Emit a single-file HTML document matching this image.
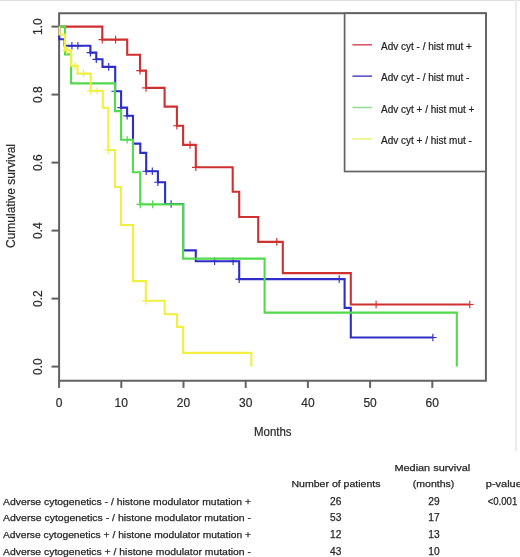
<!DOCTYPE html>
<html><head><meta charset="utf-8"><style>
html,body{margin:0;padding:0;background:#fff;}
body{width:520px;height:557px;overflow:hidden;position:relative;}
svg{position:absolute;left:0;top:0;will-change:transform;}
.ax{font-family:"Liberation Sans",sans-serif;font-size:12px;fill:#2a2a2a;stroke:#2a2a2a;stroke-width:0.2px;}
.lg{font-family:"Liberation Sans",sans-serif;font-size:10px;fill:#222;stroke:#222;stroke-width:0.2px;}
.tb{font-family:"Liberation Sans",sans-serif;font-size:9.8px;fill:#262626;stroke:#262626;stroke-width:0.25px;}
.tn{font-family:"Liberation Sans",sans-serif;font-size:10.2px;fill:#262626;stroke:#262626;stroke-width:0.25px;}
</style></head><body>
<svg width="520" height="557" viewBox="0 0 520 557">
<g>
<rect x="0" y="0" width="520" height="557" fill="#fff"/>
<rect x="0" y="0" width="520" height="1" fill="#dedede"/>
<rect x="515" y="0" width="2" height="451" fill="#ebebeb"/>
<path d="M59.1,13.3 H485.9 V380.7 H59.1 Z" stroke="#626262" stroke-width="2.0" fill="none"/><path d="M51.5,26.6 H59.1" stroke="#626262" stroke-width="2.0"/><path d="M51.5,94.6 H59.1" stroke="#626262" stroke-width="2.0"/><path d="M51.5,162.6 H59.1" stroke="#626262" stroke-width="2.0"/><path d="M51.5,230.6 H59.1" stroke="#626262" stroke-width="2.0"/><path d="M51.5,298.6 H59.1" stroke="#626262" stroke-width="2.0"/><path d="M51.5,366.6 H59.1" stroke="#626262" stroke-width="2.0"/><path d="M59.1,380.5 V387.9" stroke="#626262" stroke-width="2.0"/><path d="M121.3,380.5 V387.9" stroke="#626262" stroke-width="2.0"/><path d="M183.5,380.5 V387.9" stroke="#626262" stroke-width="2.0"/><path d="M245.7,380.5 V387.9" stroke="#626262" stroke-width="2.0"/><path d="M307.9,380.5 V387.9" stroke="#626262" stroke-width="2.0"/><path d="M370.1,380.5 V387.9" stroke="#626262" stroke-width="2.0"/><path d="M432.3,380.5 V387.9" stroke="#626262" stroke-width="2.0"/>
<text transform="translate(42,26.6) rotate(-90)" text-anchor="middle" class="ax">1.0</text><text transform="translate(42,94.6) rotate(-90)" text-anchor="middle" class="ax">0.8</text><text transform="translate(42,162.6) rotate(-90)" text-anchor="middle" class="ax">0.6</text><text transform="translate(42,230.6) rotate(-90)" text-anchor="middle" class="ax">0.4</text><text transform="translate(42,298.6) rotate(-90)" text-anchor="middle" class="ax">0.2</text><text transform="translate(42,366.6) rotate(-90)" text-anchor="middle" class="ax">0.0</text><text x="59.1" y="407" text-anchor="middle" class="ax">0</text><text x="121.3" y="407" text-anchor="middle" class="ax">10</text><text x="183.5" y="407" text-anchor="middle" class="ax">20</text><text x="245.7" y="407" text-anchor="middle" class="ax">30</text><text x="307.9" y="407" text-anchor="middle" class="ax">40</text><text x="370.1" y="407" text-anchor="middle" class="ax">50</text><text x="432.3" y="407" text-anchor="middle" class="ax">60</text><text x="272.8" y="436" text-anchor="middle" class="ax" textLength="37.5" lengthAdjust="spacingAndGlyphs">Months</text><text transform="translate(14.6,196) rotate(-90)" text-anchor="middle" class="ax">Cumulative survival</text>
<g fill="none" stroke-width="2.1" stroke-linecap="butt" stroke-linejoin="miter">
<path d="M59.1,26.6 H102.3 V39.6 H127.2 V54.7 H140 V70.6 H146 V87.9 H164.6 V106.6 H176.9 V125.7 H183.1 V144.9 H195.8 V167.3 H232.7 V191.7 H239.2 V217 H258.2 V241.9 H282.8 V273.1 H350.8 V304.5 H469.8" stroke="#cf3030"/><path d="M98.5,39.6 H106.1 M102.3,35.8 V43.4 M111.8,39.6 H119.4 M115.6,35.8 V43.4 M136.2,70.6 H143.8 M140,66.8 V74.4 M142.2,87.9 H149.8 M146,84.1 V91.7 M173.1,125.7 H180.7 M176.9,121.9 V129.5 M186.2,144.9 H193.8 M190,141.1 V148.7 M192.0,167.3 H199.6 M195.8,163.5 V171.1 M273.0,241.9 H280.6 M276.8,238.1 V245.7 M372.3,304.5 H379.9 M376.1,300.7 V308.3 M466.0,304.5 H473.6 M469.8,300.7 V308.3" stroke="#cf3030" stroke-width="1.15"/>
<path d="M59.3,26.6 V39.2 H64.6 V45.8 H90.4 V52.6 H96.3 V59.3 H102.5 V66.9 H115.2 V91.2 H121.1 V107.6 H127.1 V115.8 H133 V143.6 H140.3 V152.9 H146.2 V171.2 H157.9 V182.2 H165.1 V204 H183.2 V250.4 H195.8 V261.2 H239.2 V279.1 H344.6 V307.9 H350.8 V337.5 H432.9" stroke="#2e2ec6"/><path d="M68.1,45.8 H75.7 M71.9,42.0 V49.6 M74.1,45.8 H81.7 M77.9,42.0 V49.6 M86.6,52.6 H94.2 M90.4,48.8 V56.4 M92.5,59.3 H100.1 M96.3,55.5 V63.1 M104.9,66.9 H112.5 M108.7,63.1 V70.7 M111.4,91.2 H119.0 M115.2,87.4 V95.0 M117.3,107.6 H124.9 M121.1,103.8 V111.4 M123.3,115.8 H130.9 M127.1,112.0 V119.6 M142.4,171.2 H150.0 M146.2,167.4 V175.0 M148.5,171.2 H156.1 M152.3,167.4 V175.0 M154.1,182.2 H161.7 M157.9,178.4 V186.0 M167.3,204 H174.9 M171.1,200.2 V207.8 M210.8,261.2 H218.4 M214.6,257.4 V265.0 M229.3,261.2 H236.9 M233.1,257.4 V265.0 M235.4,279.1 H243.0 M239.2,275.3 V282.9 M335.4,279.1 H343.0 M339.2,275.3 V282.9 M429.1,337.5 H436.7 M432.9,333.7 V341.3" stroke="#2e2ec6" stroke-width="1.15"/>
<path d="M59.1,26.6 H65 V54.4 H71.1 V83.4 H115 V111.1 H121.1 V139.7 H132.9 V172.2 H140.2 V204.4 H183.1 V258.6 H264.6 V312.6 H456.8 V366.6" stroke="#52da4c"/><path d="M123.4,139.7 H131.0 M127.2,135.9 V143.5 M136.4,204.4 H144.0 M140.2,200.6 V208.2 M148.8,204.4 H156.4 M152.6,200.6 V208.2" stroke="#52da4c" stroke-width="1.15"/>
<path d="M59.4,26.6 V34.5 H64.9 V50.4 H71 V65.8 H77.5 V73.6 H90.7 V90.8 H102.8 V107.7 H108.3 V150 H114.9 V187 H120.9 V225 H133.1 V281.1 H145.8 V300.8 H164.6 V314.2 H177 V326.9 H183.1 V352.9 H251.3 V366.6" stroke="#f1ef40"/><path d="M62.7,50.4 H70.3 M66.5,46.6 V54.2 M71.2,65.8 H78.8 M75,62.0 V69.6 M79.8,73.6 H87.4 M83.6,69.8 V77.4 M86.9,90.8 H94.5 M90.7,87.0 V94.6 M93.4,90.8 H101.0 M97.2,87.0 V94.6 M104.5,150 H112.1 M108.3,146.2 V153.8 M142.0,300.8 H149.6 M145.8,297.0 V304.6" stroke="#f1ef40" stroke-width="1.15"/>
</g>
<rect x="344.6" y="13.3" width="141.3" height="158.2" fill="#fff" stroke="#626262" stroke-width="1.7"/><path d="M352.4,44.80 H372" stroke="#dc5a6a" stroke-width="1.6"/><text x="381" y="50.00" class="lg">Adv cyt - / hist mut +</text><path d="M352.4,76.15 H372" stroke="#5a52c8" stroke-width="1.6"/><text x="381" y="81.35" class="lg">Adv cyt - / hist mut -</text><path d="M352.4,107.50 H372" stroke="#98dc98" stroke-width="1.6"/><text x="381" y="112.70" class="lg">Adv cyt + / hist mut +</text><path d="M352.4,138.85 H372" stroke="#ecf47a" stroke-width="1.6"/><text x="381" y="144.05" class="lg">Adv cyt + / hist mut -</text>
<text x="3" y="504.5" class="tb" textLength="248" lengthAdjust="spacingAndGlyphs">Adverse cytogenetics - / histone modulator mutation +</text><text x="335.7" y="504.5" text-anchor="middle" class="tn">26</text><text x="434" y="504.5" text-anchor="middle" class="tn">29</text><text x="3" y="521.3" class="tb" textLength="248" lengthAdjust="spacingAndGlyphs">Adverse cytogenetics - / histone modulator mutation -</text><text x="335.7" y="521.3" text-anchor="middle" class="tn">53</text><text x="434" y="521.3" text-anchor="middle" class="tn">17</text><text x="3" y="538.1" class="tb" textLength="248" lengthAdjust="spacingAndGlyphs">Adverse cytogenetics + / histone modulator mutation +</text><text x="335.7" y="538.1" text-anchor="middle" class="tn">12</text><text x="434" y="538.1" text-anchor="middle" class="tn">13</text><text x="3" y="554.9" class="tb" textLength="248" lengthAdjust="spacingAndGlyphs">Adverse cytogenetics + / histone modulator mutation -</text><text x="335.7" y="554.9" text-anchor="middle" class="tn">43</text><text x="434" y="554.9" text-anchor="middle" class="tn">10</text><text x="487.7" y="504.5" class="tn" textLength="29.6" lengthAdjust="spacingAndGlyphs">&lt;0.001</text><text x="336" y="487.3" text-anchor="middle" class="tb" textLength="89" lengthAdjust="spacingAndGlyphs">Number of patients</text><text x="432.3" y="471.2" text-anchor="middle" class="tb" textLength="75.7" lengthAdjust="spacingAndGlyphs">Median survival</text><text x="433.6" y="486.5" text-anchor="middle" class="tb" textLength="41.5" lengthAdjust="spacingAndGlyphs">(months)</text><text x="485.8" y="486.5" class="tb" textLength="36" lengthAdjust="spacingAndGlyphs">p-value</text>
</g>
</svg>
</body></html>
